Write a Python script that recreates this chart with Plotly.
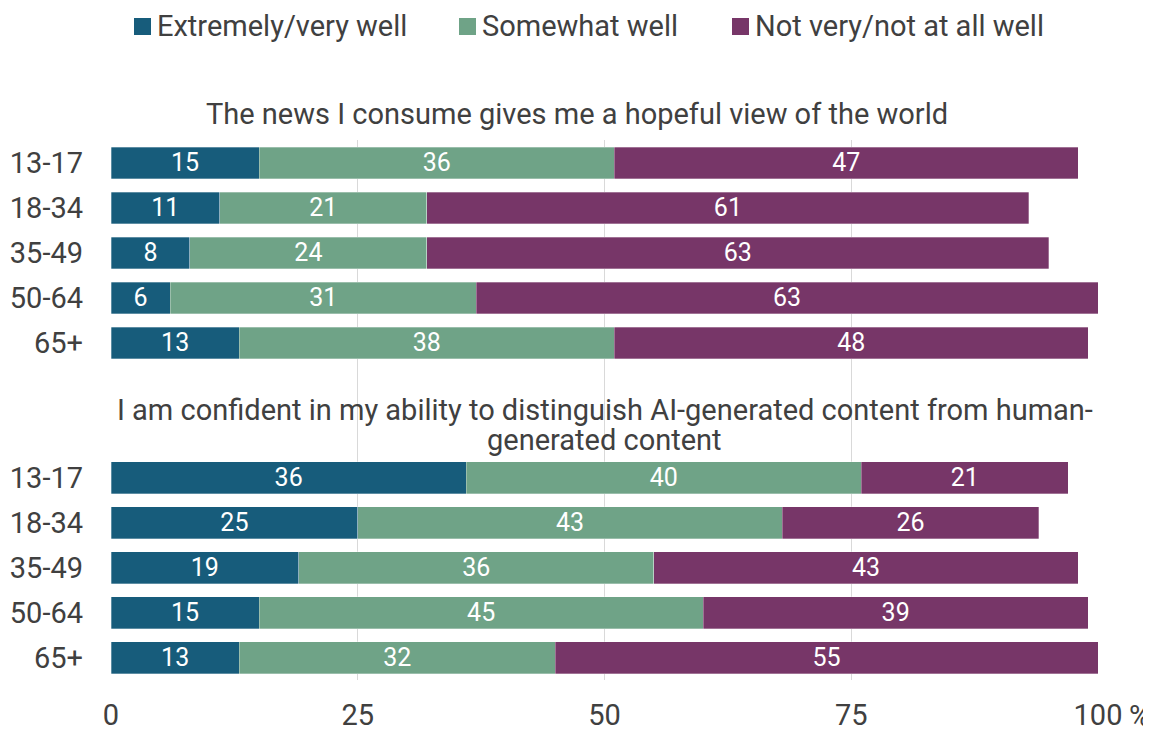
import plotly.graph_objects as go

ages = ["13-17", "18-34", "35-49", "50-64", "65+"]
series_names = ["Extremely/very well", "Somewhat well", "Not very/not at all well"]
colors = ["#175C7B", "#6FA387", "#773668"]

title_top = "The news I consume gives me a hopeful view of the world"
title_bottom_1 = "I am confident in my ability to distinguish AI-generated content from human-"
title_bottom_2 = "generated content"

top_extremely = [15, 11, 8, 6, 13]
top_somewhat = [36, 21, 24, 31, 38]
top_not = [47, 61, 63, 63, 48]

bottom_extremely = [36, 25, 19, 15, 13]
bottom_somewhat = [40, 43, 36, 45, 32]
bottom_not = [21, 26, 43, 39, 55]

x_ticks = [0, 25, 50, 75, 100]
x_ticktext = ["0", "25", "50", "75", "100"]
x_unit = "%"

# row positions: group 1 rows 0..4, group 2 rows 7..11
pos_top = list(range(len(ages)))
pos_bottom = [p + len(ages) + 2 for p in pos_top]
positions = pos_top + pos_bottom
labels = ages + ages

series_vals = [
    top_extremely + bottom_extremely,
    top_somewhat + bottom_somewhat,
    top_not + bottom_not,
]

FONT = "Roboto, Arial, sans-serif"
TXT = "#404040"
FS = 29

# page body has an 8px margin: figure sits at (8, 8) in the window
OFF = 8
W, H = 1151 - OFF, 729 - OFF
PL, PR, PT, PB = 111, 1098, 140, 680  # plot area in window pixels


def px_x(px):
    return (px - PL) / (PR - PL)


def px_y(py):
    return (PB - py) / (PB - PT)


fig = go.Figure()
for name, vals, col in zip(series_names, series_vals, colors):
    fig.add_trace(go.Bar(
        x=vals, y=positions, orientation="h", name=name,
        marker=dict(color=col, line=dict(color="rgba(255,255,255,0.5)", width=0.6)),
        width=0.71,
        text=[str(v) for v in vals], textposition="inside",
        insidetextanchor="middle", textangle=0, constraintext="none",
        textfont=dict(color="white", size=25, family=FONT),
        showlegend=False,
    ))

fig.update_layout(
    barmode="stack",
    width=W, height=H,
    margin=dict(l=PL - OFF, r=1151 - PR, t=PT - OFF, b=729 - PB, autoexpand=False),
    paper_bgcolor="white", plot_bgcolor="white",
    font=dict(family=FONT, color=TXT, size=FS),
    xaxis=dict(range=[0, 100], tickvals=x_ticks, ticktext=x_ticktext,
               showgrid=True, gridcolor="#D9D9D9", gridwidth=1,
               zeroline=False, showline=False, ticks="", automargin=False,
               ticklabelstandoff=15, tickfont=dict(size=FS, color=TXT)),
    yaxis=dict(range=[11.49, -0.511], tickvals=positions, ticktext=labels,
               showgrid=False, zeroline=False, showline=False, ticks="",
               automargin=False,
               ticklabelstandoff=27, tickfont=dict(size=FS, color=TXT)),
    showlegend=False,
)

# legend drawn as squares + labels
legend_sq_left = [134, 459, 732]
for name, col, sx in zip(series_names, colors, legend_sq_left):
    fig.add_shape(type="rect", xref="paper", yref="paper",
                  x0=px_x(sx), x1=px_x(sx + 17), y0=px_y(35), y1=px_y(18),
                  fillcolor=col, line=dict(width=0), layer="above")
    fig.add_annotation(text=name, xref="paper", yref="paper",
                       x=px_x(sx + 21), y=px_y(26), xanchor="left",
                       yanchor="middle", showarrow=False,
                       font=dict(size=FS, color=TXT))

fig.add_annotation(text=title_top, xref="paper", yref="paper", x=px_x(577),
                   y=px_y(114), xanchor="center", yanchor="middle", showarrow=False,
                   font=dict(size=FS, color=TXT))
fig.add_annotation(text=title_bottom_1, xref="paper", yref="y", x=0.5,
                   y=pos_bottom[0] - 1.51, yanchor="middle", showarrow=False,
                   font=dict(size=FS, color=TXT))
fig.add_annotation(text=title_bottom_2, xref="paper", yref="y", x=0.5,
                   y=pos_bottom[0] - 0.84, yanchor="middle", showarrow=False,
                   font=dict(size=FS, color=TXT))
fig.add_annotation(text=x_unit, xref="x", yref="paper", x=x_ticks[-1], xshift=41,
                   y=0, yshift=-36, yanchor="middle", showarrow=False,
                   font=dict(size=FS, color=TXT))

fig.write_html("out.html")
